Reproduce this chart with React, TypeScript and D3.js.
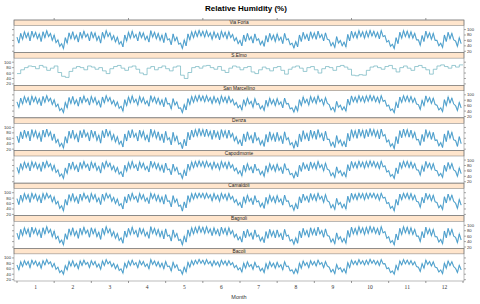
import React from "react";
import * as d3 from "d3";

const stations = ["Via Foria", "S.Elmo", "San Marcellino", "Denza", "Capodimonte", "Camaldoli", "Bagnoli", "Bacoli"];
const monthLabels = ["1", "2", "3", "4", "5", "6", "7", "8", "9", "10", "11", "12"];
const yTicks = [20, 40, 60, 80, 100];

// high / low readings, alternating, roughly every 1.5 days across the year
const viaForia = [
  72, 50, 86, 64, 92, 70, 88, 58, 94, 72, 90, 66, 84, 56, 92, 70, 96, 74, 86, 60,
  80, 52, 62, 38, 48, 30, 70, 50, 88, 66, 92, 64, 80, 54, 90, 68, 94, 72, 84, 58,
  92, 70, 88, 60, 76, 50, 90, 68, 96, 74, 88, 62, 78, 54, 72, 46, 56, 36, 80, 58,
  90, 68, 94, 70, 82, 58, 92, 70, 88, 62, 76, 54, 96, 72, 90, 66, 86, 60, 80, 52,
  88, 62, 66, 44, 84, 58, 72, 46, 50, 30, 62, 40, 84, 62, 92, 70, 94, 74, 97, 76,
  94, 72, 96, 74, 88, 64, 92, 70, 86, 62, 94, 72, 90, 66, 92, 70, 82, 58, 70, 48,
  60, 40, 80, 56, 86, 62, 74, 50, 84, 60, 66, 44, 58, 38, 78, 54, 86, 62, 80, 56,
  84, 60, 72, 48, 86, 62, 66, 44, 50, 32, 56, 36, 80, 56, 90, 66, 82, 58, 92, 68,
  88, 64, 94, 70, 82, 58, 88, 64, 62, 40, 52, 34, 74, 50, 60, 40, 54, 36, 82, 58,
  94, 70, 90, 68, 96, 74, 92, 68, 94, 72, 97, 76, 94, 72, 90, 66, 96, 74, 78, 54,
  60, 38, 46, 30, 70, 48, 90, 68, 96, 74, 94, 70, 92, 68, 86, 62, 62, 42, 78, 56,
  94, 70, 88, 64, 86, 60, 60, 40, 50, 34, 80, 56, 90, 66, 86, 62, 58, 38, 70, 48,
];
// S.Elmo: coarser readings, drawn as steps
const sElmo = [
  58, 72, 80, 86, 84, 76, 88, 82, 70, 78, 86, 62, 48, 44, 66, 78, 84, 80, 72, 86,
  82, 74, 80, 68, 58, 76, 84, 88, 78, 70, 82, 86, 74, 60, 54, 78, 84, 72, 80, 86,
  76, 68, 82, 86, 52, 40, 62, 80, 84, 78, 86, 88, 80, 74, 84, 70, 62, 78, 86, 82,
  72, 80, 84, 64, 58, 72, 82, 76, 68, 80, 84, 70, 56, 74, 82, 86, 78, 66, 80, 84,
  72, 60, 76, 84, 80, 70, 84, 88, 82, 74, 52, 50, 54, 52, 70, 82, 86, 80, 74, 84,
  88, 76, 64, 80, 86, 78, 70, 84, 88, 80, 72, 56, 74, 86, 90, 84, 78, 88, 82, 90,
];
const sanMarcellino = [
  74, 54, 88, 66, 94, 72, 90, 62, 95, 74, 92, 68, 86, 60, 94, 72, 97, 76, 88, 64,
  82, 56, 66, 42, 50, 34, 72, 52, 90, 68, 94, 66, 82, 58, 92, 70, 96, 74, 86, 62,
  94, 72, 90, 64, 78, 54, 92, 70, 97, 76, 90, 66, 80, 58, 74, 50, 58, 40, 82, 60,
  92, 70, 96, 72, 84, 62, 94, 72, 90, 66, 78, 58, 97, 74, 92, 68, 88, 64, 82, 56,
  90, 66, 68, 48, 86, 62, 74, 50, 52, 34, 64, 44, 86, 64, 94, 72, 96, 76, 98, 78,
  96, 74, 97, 76, 90, 68, 94, 72, 88, 66, 96, 74, 92, 70, 94, 72, 84, 62, 72, 52,
  62, 44, 82, 60, 88, 66, 76, 54, 86, 64, 68, 48, 60, 42, 80, 58, 88, 66, 82, 60,
  86, 64, 74, 52, 88, 66, 68, 48, 52, 36, 58, 40, 82, 60, 92, 70, 84, 62, 94, 72,
  90, 68, 96, 74, 84, 62, 90, 68, 64, 44, 54, 38, 76, 54, 62, 44, 56, 40, 84, 62,
  96, 74, 92, 72, 97, 76, 94, 72, 96, 76, 98, 78, 96, 74, 92, 70, 97, 76, 80, 58,
  62, 42, 48, 34, 72, 52, 92, 72, 97, 76, 96, 74, 94, 72, 88, 66, 64, 46, 80, 60,
  96, 74, 90, 68, 88, 64, 62, 44, 52, 38, 82, 60, 92, 70, 88, 66, 60, 42, 72, 52,
];
const denza = [
  68, 44, 84, 58, 90, 64, 86, 50, 92, 66, 88, 60, 80, 48, 90, 64, 94, 68, 84, 52,
  76, 44, 56, 30, 42, 24, 66, 42, 86, 60, 90, 58, 76, 46, 88, 62, 92, 66, 80, 50,
  90, 64, 86, 52, 72, 42, 88, 62, 94, 68, 86, 54, 74, 46, 66, 38, 50, 28, 76, 50,
  88, 62, 92, 64, 78, 50, 90, 64, 86, 54, 72, 46, 94, 66, 88, 60, 84, 52, 76, 44,
  86, 54, 62, 36, 82, 50, 68, 38, 44, 22, 56, 32, 82, 54, 90, 64, 92, 68, 96, 70,
  92, 66, 94, 68, 86, 56, 90, 64, 84, 54, 92, 66, 88, 60, 90, 64, 78, 50, 66, 40,
  54, 32, 76, 48, 84, 56, 70, 42, 82, 52, 62, 36, 52, 30, 74, 46, 84, 54, 76, 48,
  82, 52, 68, 40, 84, 54, 62, 36, 44, 24, 50, 28, 76, 48, 88, 58, 78, 50, 90, 62,
  86, 56, 92, 64, 78, 50, 86, 56, 56, 32, 46, 26, 70, 42, 54, 32, 48, 28, 78, 50,
  92, 64, 88, 60, 94, 68, 90, 60, 92, 66, 96, 70, 92, 66, 88, 58, 94, 68, 74, 46,
  54, 30, 40, 22, 66, 40, 88, 62, 94, 68, 92, 64, 90, 62, 82, 54, 56, 34, 74, 48,
  92, 64, 84, 56, 82, 52, 54, 32, 44, 26, 76, 48, 88, 60, 82, 54, 52, 30, 66, 40,
];
const capodimonte = [
  73, 52, 87, 65, 93, 71, 89, 60, 94, 73, 91, 67, 85, 58, 93, 71, 96, 75, 87, 62,
  81, 54, 64, 40, 49, 32, 71, 51, 89, 67, 93, 65, 81, 56, 91, 69, 95, 73, 85, 60,
  93, 71, 89, 62, 77, 52, 91, 69, 96, 75, 89, 64, 79, 56, 73, 48, 57, 38, 81, 59,
  91, 69, 95, 71, 83, 60, 93, 71, 89, 64, 77, 56, 96, 73, 91, 67, 87, 62, 81, 54,
  89, 64, 67, 46, 85, 60, 73, 48, 51, 32, 63, 42, 85, 63, 93, 71, 95, 75, 97, 77,
  95, 73, 96, 75, 89, 66, 93, 71, 87, 64, 95, 73, 91, 68, 93, 71, 83, 60, 71, 50,
  61, 42, 81, 58, 87, 64, 75, 52, 85, 62, 67, 46, 59, 40, 79, 56, 87, 64, 81, 58,
  85, 62, 73, 50, 87, 64, 67, 46, 51, 34, 57, 38, 81, 58, 91, 68, 83, 60, 93, 70,
  89, 66, 95, 72, 83, 60, 89, 66, 63, 42, 53, 36, 75, 52, 61, 42, 55, 38, 83, 60,
  95, 72, 91, 70, 96, 75, 93, 70, 95, 74, 97, 77, 95, 73, 91, 68, 96, 75, 79, 56,
  61, 40, 47, 32, 71, 50, 91, 70, 96, 75, 95, 72, 93, 70, 87, 64, 63, 44, 79, 58,
  95, 72, 89, 66, 87, 62, 61, 42, 51, 36, 81, 58, 91, 68, 87, 64, 59, 40, 71, 50,
];
const camaldoli = [
  78, 56, 91, 68, 97, 76, 93, 64, 98, 78, 95, 70, 89, 62, 97, 76, 98, 80, 91, 66,
  85, 58, 68, 42, 52, 33, 75, 54, 93, 70, 97, 68, 85, 60, 95, 72, 98, 78, 89, 64,
  97, 76, 93, 66, 81, 56, 95, 72, 98, 80, 93, 68, 83, 60, 77, 52, 60, 40, 85, 62,
  95, 72, 98, 76, 87, 64, 97, 76, 93, 68, 81, 60, 98, 78, 95, 70, 91, 66, 85, 58,
  93, 68, 70, 48, 89, 64, 77, 50, 54, 32, 66, 44, 89, 66, 97, 76, 98, 80, 98, 82,
  98, 78, 98, 80, 93, 70, 97, 76, 91, 68, 98, 78, 95, 72, 97, 76, 87, 64, 75, 54,
  64, 44, 85, 62, 91, 68, 79, 56, 89, 66, 70, 48, 62, 42, 83, 60, 91, 68, 85, 62,
  89, 66, 77, 54, 91, 68, 70, 48, 54, 35, 60, 40, 85, 62, 95, 72, 87, 64, 97, 74,
  93, 70, 98, 76, 87, 64, 93, 70, 66, 44, 56, 38, 79, 56, 64, 44, 58, 40, 87, 64,
  98, 76, 95, 74, 98, 80, 97, 74, 98, 78, 98, 82, 98, 78, 95, 72, 98, 80, 83, 60,
  64, 42, 50, 33, 75, 54, 95, 74, 98, 80, 98, 76, 97, 74, 91, 68, 66, 46, 83, 62,
  98, 76, 93, 70, 91, 66, 64, 44, 54, 38, 85, 62, 95, 72, 91, 68, 62, 42, 75, 54,
];
const bagnoli = [
  71, 48, 85, 62, 91, 68, 87, 56, 93, 70, 89, 64, 83, 54, 91, 68, 95, 72, 85, 58,
  79, 50, 60, 36, 46, 28, 69, 48, 87, 64, 91, 62, 79, 52, 89, 66, 93, 70, 83, 56,
  91, 68, 87, 58, 75, 48, 89, 66, 95, 72, 87, 60, 77, 52, 70, 44, 54, 34, 79, 56,
  89, 66, 93, 68, 81, 56, 91, 68, 87, 60, 75, 52, 95, 70, 89, 64, 85, 58, 79, 50,
  87, 60, 64, 42, 83, 56, 70, 44, 48, 28, 60, 38, 83, 60, 91, 68, 93, 72, 96, 74,
  93, 70, 95, 72, 87, 62, 91, 68, 85, 60, 93, 70, 89, 64, 91, 68, 81, 56, 68, 46,
  58, 38, 79, 54, 85, 60, 72, 48, 83, 58, 64, 42, 56, 36, 77, 52, 85, 60, 79, 54,
  83, 58, 70, 46, 85, 60, 64, 42, 48, 30, 54, 34, 79, 54, 89, 64, 81, 56, 91, 66,
  87, 62, 93, 68, 81, 56, 87, 62, 60, 38, 50, 32, 72, 48, 58, 38, 52, 34, 81, 56,
  93, 68, 89, 66, 95, 72, 91, 66, 93, 70, 96, 74, 93, 70, 89, 64, 95, 72, 77, 52,
  58, 36, 44, 28, 68, 46, 89, 66, 95, 72, 93, 68, 91, 66, 85, 60, 60, 40, 77, 54,
  93, 68, 87, 62, 85, 58, 58, 38, 48, 32, 79, 54, 89, 64, 85, 60, 56, 36, 68, 46,
];
const bacoli = [
  74, 56, 86, 68, 90, 74, 87, 64, 92, 76, 89, 70, 84, 62, 90, 74, 94, 78, 86, 66,
  80, 58, 66, 46, 54, 40, 72, 56, 87, 70, 90, 68, 80, 60, 89, 72, 92, 76, 84, 64,
  90, 74, 87, 66, 78, 58, 89, 72, 94, 78, 87, 68, 80, 60, 75, 54, 60, 44, 81, 64,
  89, 72, 92, 74, 83, 64, 90, 74, 87, 68, 78, 60, 94, 76, 89, 70, 86, 66, 81, 60,
  87, 68, 70, 52, 84, 64, 75, 54, 56, 40, 66, 48, 84, 66, 90, 74, 92, 78, 95, 80,
  92, 76, 94, 78, 87, 70, 90, 74, 86, 68, 92, 76, 89, 72, 90, 74, 83, 64, 73, 56,
  64, 48, 81, 62, 86, 68, 76, 58, 84, 66, 70, 52, 62, 46, 79, 60, 86, 68, 81, 62,
  84, 66, 75, 56, 86, 68, 70, 52, 56, 42, 60, 44, 81, 62, 89, 72, 83, 64, 90, 74,
  87, 70, 92, 76, 83, 64, 87, 70, 66, 48, 58, 42, 76, 58, 64, 48, 60, 44, 83, 64,
  92, 76, 89, 74, 94, 78, 90, 74, 92, 76, 95, 80, 92, 76, 89, 72, 94, 78, 79, 60,
  64, 46, 52, 40, 73, 56, 89, 74, 94, 78, 92, 76, 90, 74, 86, 68, 66, 50, 79, 62,
  92, 76, 87, 70, 86, 66, 64, 48, 56, 42, 81, 62, 89, 72, 86, 68, 62, 46, 73, 56,
];

const series = [viaForia, sElmo, sanMarcellino, denza, capodimonte, camaldoli, bagnoli, bacoli];

const W = 480;
const H = 304;
const left = 14;
const right = 464;
const top = 20;
const bottom = 281;
const blockH = (bottom - top) / stations.length;
const stripH = 5.5;

const App: React.FC = () => {
  const x = d3.scaleLinear().domain([0, 12]).range([17, 463]);
  const tickCol = "#555";
  const font = "Liberation Sans, Arial, sans-serif";

  return (
    <svg width={W} height={H} style={{ position: "absolute", left: 0, top: 0 }}>
      <rect width={W} height={H} fill="#fff" />
      <text x={246} y={11} textAnchor="middle" fontFamily={font} fontWeight="bold" fontSize={8}>
        Relative Humidity (%)
      </text>

      {/* top axis ticks */}
      {[1, 3, 5, 7, 9, 11].map((m) => (
        <line key={m} x1={x(m)} x2={x(m)} y1={top} y2={top - 2} stroke={tickCol} strokeWidth={0.6} />
      ))}

      {stations.map((name, p) => {
        const y0 = top + p * blockH;
        const plotTop = y0 + stripH;
        const plotBottom = y0 + blockH;
        const y = d3.scaleLinear().domain([15, 115]).range([plotBottom, plotTop]);
        const vals = series[p];
        const n = vals.length;
        const isElmo = p === 1;
        const line = d3
          .line<number>()
          .x((_, i) => x((i * 12) / n))
          .y((d) => y(d))
          .curve(isElmo ? d3.curveStepAfter : d3.curveLinear);
        const path = line(isElmo ? [...vals, vals[n - 1]] : vals) || "";
        const labelsLeft = p % 2 === 1;
        return (
          <g key={name}>
            <defs>
              <clipPath id={"c" + p}>
                <rect x={left} y={plotTop} width={right - left} height={plotBottom - plotTop} />
              </clipPath>
            </defs>
            <g clipPath={`url(#c${p})`}>
              {isElmo ? (
                <path d={path} fill="none" stroke="#6fb3bf" strokeWidth={0.7} />
              ) : (
                <>
                  <path d={path} fill="none" stroke="#80bfcd" strokeWidth={1.1} />
                  <path d={path} fill="none" stroke="#1f80d4" strokeWidth={0.45} />
                </>
              )}
            </g>
            <rect x={left} y={y0} width={right - left} height={stripH} fill="#ffe5cc" stroke="#777" strokeWidth={0.5} />
            <text x={(left + right) / 2} y={y0 + stripH - 1.2} textAnchor="middle" fontFamily={font} fontSize={4.8} fill="#222">
              {name}
            </text>
            <rect x={left} y={y0} width={right - left} height={blockH} fill="none" stroke="#777" strokeWidth={0.5} />
            {yTicks.map((t) => (
              <g key={t}>
                <line x1={left} x2={left - 2} y1={y(t)} y2={y(t)} stroke={tickCol} strokeWidth={0.5} />
                <line x1={right} x2={right + 2} y1={y(t)} y2={y(t)} stroke={tickCol} strokeWidth={0.5} />
                {labelsLeft ? (
                  <text x={left - 3} y={y(t) + 1.5} textAnchor="end" fontFamily={font} fontSize={4.2} fill="#333">
                    {t}
                  </text>
                ) : (
                  <text x={right + 3} y={y(t) + 1.5} textAnchor="start" fontFamily={font} fontSize={4.2} fill="#333">
                    {t}
                  </text>
                )}
              </g>
            ))}
          </g>
        );
      })}

      {/* bottom axis */}
      {d3.range(0, 13).map((m) => (
        <line key={m} x1={x(m)} x2={x(m)} y1={bottom} y2={bottom + 2} stroke={tickCol} strokeWidth={0.6} />
      ))}
      {monthLabels.map((lab, i) => (
        <text key={lab} x={x(i + 0.5)} y={bottom + 8} textAnchor="middle" fontFamily="Liberation Serif, serif" fontSize={5.5} fill="#333">
          {lab}
        </text>
      ))}
      <text x={(left + right) / 2} y={299} textAnchor="middle" fontFamily={font} fontSize={5.5} fill="#333">
        Month
      </text>
    </svg>
  );
};

export default App;
